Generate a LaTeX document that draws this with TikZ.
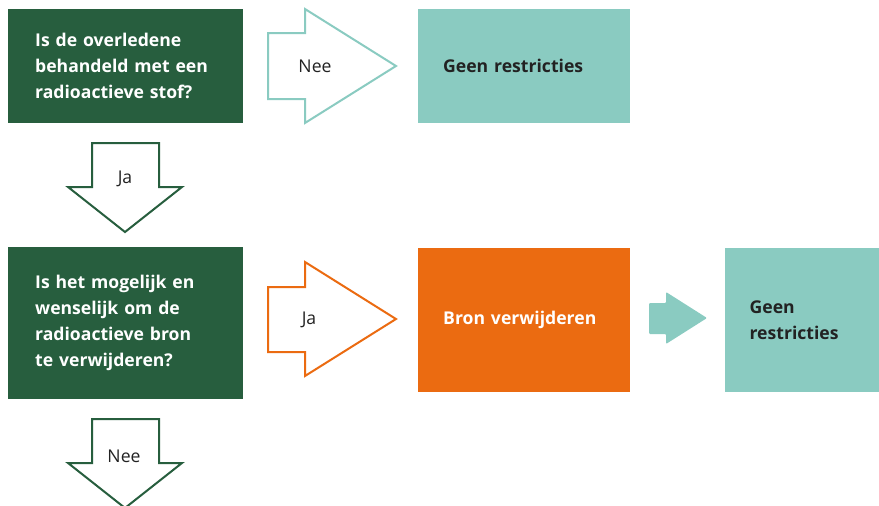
\documentclass[tikz,border=0pt]{standalone}
\usepackage{fontspec}
\setmainfont{Open Sans}
\usetikzlibrary{positioning}
\definecolor{rodonker}{RGB}{39,94,62}
\definecolor{romint}{RGB}{138,203,193}
\definecolor{rooranje}{RGB}{235,107,17}
\definecolor{rotekst}{RGB}{34,34,34}

\begin{document}
\begin{tikzpicture}[x=1pt, y=-1pt,
    vraag/.style={fill=rodonker, text=white, anchor=north west, align=left,
                  font=\fontsize{17.6}{26}\selectfont\bfseries,
                  inner xsep=27pt, inner ysep=0pt, text width=181pt},
    uitkomst/.style={fill=romint, text=rotekst, anchor=north west, align=left,
                  font=\fontsize{17.6}{26}\selectfont\bfseries,
                  inner xsep=25pt, inner ysep=0pt},
    pijl/.style={line width=2pt, fill=white, line join=miter},
    lbl/.style={font=\fontsize{17.6}{20}\selectfont, text=rotekst, inner sep=0pt}
  ]
    \useasboundingbox (0,0) rectangle (879,506);

    % vragen
    \node[vraag, minimum height=114pt] (q1) at (8,9)
      {Is de overledene\\behandeld met een\\radioactieve stof?};
    \node[vraag, minimum height=152pt] (q2) at (8,247)
      {Is het mogelijk en\\wenselijk om de\\radioactieve bron\\te verwijderen?};

    % uitkomsten
    \node[uitkomst, text width=162pt, minimum height=114pt] (geen1) at (418,9)
      {Geen restricties};
    \node[uitkomst, fill=rooranje, text=white, text width=162pt,
          minimum height=144pt] (bron) at (418,248) {Bron verwijderen};
    \node[uitkomst, text width=105pt, minimum height=144pt,
          right=94pt of bron.north east, anchor=north west] (geen2)
      {Geen\\restricties};

    % pijlen
    \draw[pijl, draw=romint] (268,33) -- (305,33) -- (305,9) -- (396,66)
      -- (305,123) -- (305,99) -- (268,99) -- cycle;
    \node[lbl] (nee1) at (315,66) {Nee};

    \draw[pijl, draw=rodonker] (92,143) -- (159,143) -- (159,187) -- (182,187)
      -- (125,232) -- (68,187) -- (92,187) -- cycle;
    \node[lbl] (ja1) at (125,179) {Ja};

    \draw[pijl, draw=rooranje] (268,287) -- (305,287) -- (305,262) -- (396,319)
      -- (305,376) -- (305,352) -- (268,352) -- cycle;
    \node[lbl] (ja2) at (309,320) {Ja};

    \fill[romint, rounded corners=1pt] (649,303) -- (666,303) -- (666,292)
      -- (707,318) -- (666,344) -- (666,334) -- (649,334) -- cycle;

    \draw[pijl, draw=rodonker] (92,419) -- (159,419) -- (159,463) -- (182,463)
      -- (125,508) -- (68,463) -- (92,463) -- cycle;
    \node[lbl] (nee2) at (124,456) {Nee};
\end{tikzpicture}
\end{document}
